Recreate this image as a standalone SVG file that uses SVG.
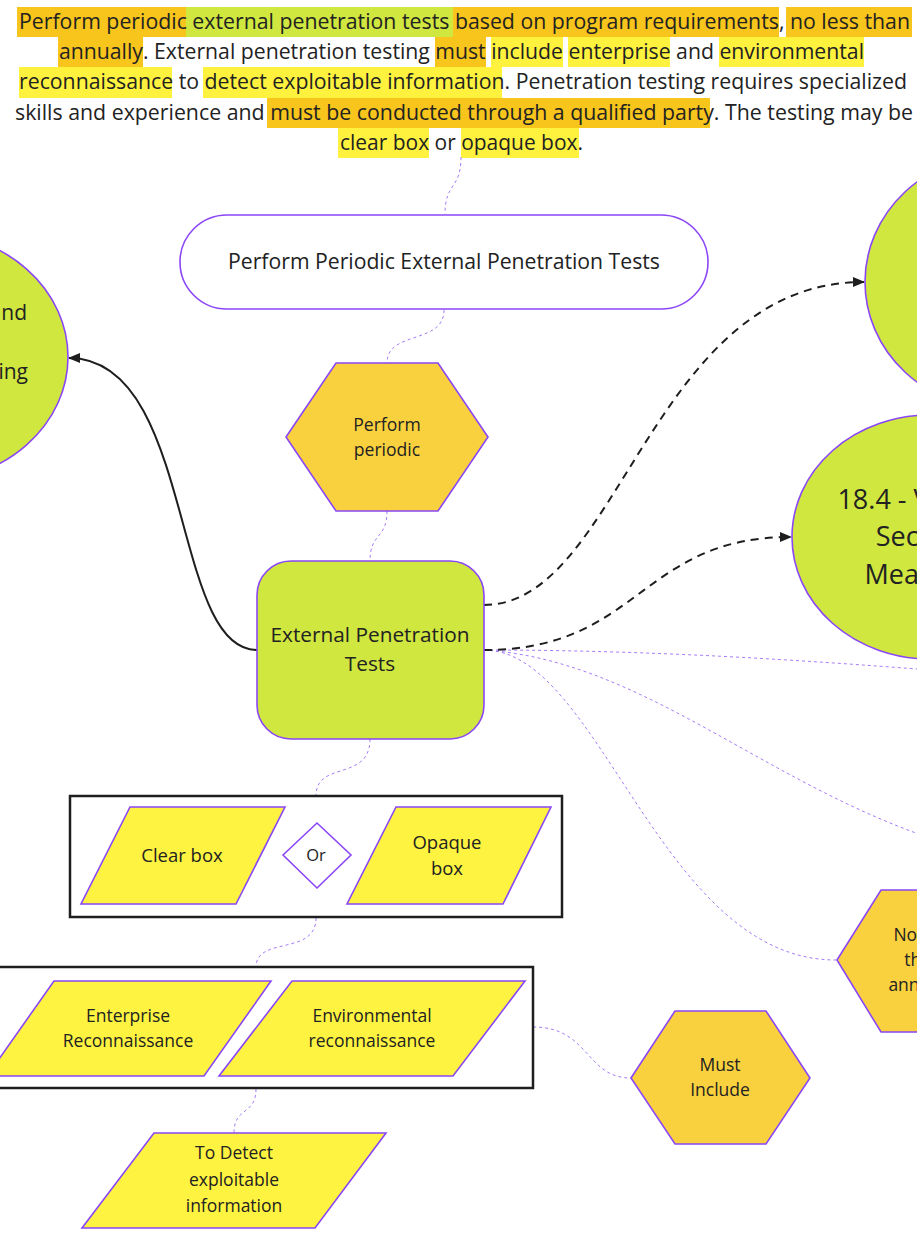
<svg xmlns="http://www.w3.org/2000/svg" width="917" height="1240" viewBox="0 0 917 1240">
  <defs>
    <marker id="arrow" viewBox="0 0 12 10" refX="11" refY="5" markerWidth="12" markerHeight="10" markerUnits="userSpaceOnUse" orient="auto">
      <path d="M0 0 L12 5 L0 10 Z" fill="#1e1e1e"/>
    </marker>
    <style>
      .t { font-family: "Open Sans", "Noto Sans", sans-serif; fill: #222; text-anchor: middle; }
      .hdr { font-size: 21px; text-anchor: start; }
      .end { text-anchor: end; }
      .lime { fill: #cfe73f; stroke: #8b46f6; stroke-width: 1.6; }
      .gold { fill: #f9d13e; stroke: #8b46f6; stroke-width: 1.6; }
      .yel { fill: #fef340; stroke: #8b46f6; stroke-width: 1.6; }
      .white { fill: #ffffff; stroke: #8b46f6; stroke-width: 1.6; }
      .frame { fill: #ffffff; stroke: #1e1e1e; stroke-width: 2.5; }
      .dot { fill: none; stroke: #a67cf7; stroke-width: 1; stroke-dasharray: 3 3; }
      .solid { fill: none; stroke: #1e1e1e; stroke-width: 2; }
      .dash { fill: none; stroke: #1e1e1e; stroke-width: 2; stroke-dasharray: 8 6; }
      .hl-o { fill: #f8c51c; }
      .hl-l { fill: #cfe73f; }
      .hl-y { fill: #fef23f; }
    </style>
  </defs>

  <rect width="917" height="1240" fill="#ffffff"/>

  <!-- Source statement with highlighted phrases -->
  <g id="statement">
    <rect class="hl-o" x="17" y="7" width="169" height="30"/>
    <rect class="hl-l" x="186" y="7" width="267" height="30"/>
    <rect class="hl-o" x="453" y="7" width="326" height="30"/>
    <rect class="hl-o" x="786" y="7" width="126" height="30"/>
    <rect class="hl-o" x="58" y="37" width="85" height="30"/>
    <rect class="hl-o" x="435" y="37" width="51" height="30"/>
    <rect class="hl-y" x="491" y="37" width="72" height="30"/>
    <rect class="hl-y" x="568" y="37" width="102" height="30"/>
    <rect class="hl-y" x="719" y="37" width="145" height="30"/>
    <rect class="hl-y" x="19" y="67" width="153" height="31"/>
    <rect class="hl-y" x="203" y="67" width="299" height="31"/>
    <rect class="hl-o" x="267" y="98" width="443" height="30"/>
    <rect class="hl-y" x="338" y="128" width="91" height="30"/>
    <rect class="hl-y" x="461" y="128" width="118" height="30"/>
    <text class="t hdr" x="19" y="29" textLength="891" lengthAdjust="spacingAndGlyphs">Perform periodic external penetration tests based on program requirements, no less than</text>
    <text class="t hdr" x="59" y="59" textLength="805" lengthAdjust="spacingAndGlyphs">annually. External penetration testing must include enterprise and environmental</text>
    <text class="t hdr" x="19" y="89" textLength="888" lengthAdjust="spacingAndGlyphs">reconnaissance to detect exploitable information. Penetration testing requires specialized</text>
    <text class="t hdr" x="15" y="120" textLength="898" lengthAdjust="spacingAndGlyphs">skills and experience and must be conducted through a qualified party. The testing may be</text>
    <text class="t hdr" x="340" y="150" textLength="243" lengthAdjust="spacingAndGlyphs">clear box or opaque box.</text>
  </g>

  <!-- Connectors -->
  <g id="connectors">
    <path class="dot" d="M461 157 C461 190 445 182 445 214"/>
    <path class="dot" d="M444 310 C444 345 387 330 387 363"/>
    <path class="dot" d="M387 511 C387 540 370 532 370 561"/>
    <path class="dot" d="M370 739 C370 782 316 760 316 796"/>
    <path class="dot" d="M316 918 C316 956 256 936 256 967"/>
    <path class="dot" d="M256 1089 C256 1116 234 1106 234 1133"/>
    <path class="dot" d="M533 1027 C590 1027 585 1078 631 1078"/>
    <path class="dot" d="M484 650 C650 650 800 660 930 670"/>
    <path class="dot" d="M484 650 C640 660 760 780 930 838"/>
    <path class="dot" d="M484 650 C600 650 660 960 836 960"/>
    <path class="solid" d="M257 650 C170 650 195 358 69 358" marker-end="url(#arrow)"/>
    <path class="dash" d="M484 605 C620 605 650 282 864 282" marker-end="url(#arrow)"/>
    <path class="dash" d="M484 650 C640 650 640 537 791 537" marker-end="url(#arrow)"/>
  </g>

  <g id="node-program">
    <ellipse class="lime" cx="-75" cy="357" rx="143" ry="125"/>
    <text class="t end" font-size="21" x="27" y="320">Establish and</text>
    <text class="t end" font-size="21" x="28" y="379">Penetration Testing</text>
  </g>

  <g id="node-top-right">
    <ellipse class="lime" cx="1003" cy="282" rx="138" ry="128"/>
  </g>

  <g id="node-validate">
    <ellipse class="lime" cx="930" cy="537" rx="138" ry="122"/>
    <text class="t" font-size="27" x="926" y="509">18.4 - Validate</text>
    <text class="t" font-size="27" x="926" y="546">Security</text>
    <text class="t" font-size="27" x="926" y="584">Measures</text>
  </g>

  <g id="node-title">
    <rect class="white" x="180" y="215" width="528" height="94" rx="47"/>
    <text class="t" font-size="21.2" x="444" y="269">Perform Periodic External Penetration Tests</text>
  </g>

  <g id="node-periodic">
    <polygon class="gold" points="286,437 336,363 438,363 488,437 438,511 336,511"/>
    <text class="t" font-size="17.6" x="387" y="431">Perform</text>
    <text class="t" font-size="17.6" x="387" y="456">periodic</text>
  </g>

  <g id="node-ext">
    <rect class="lime" x="257" y="561" width="227" height="178" rx="34"/>
    <text class="t" font-size="20.8" x="370" y="642">External Penetration</text>
    <text class="t" font-size="20.8" x="370" y="671">Tests</text>
  </g>

  <g id="node-box-type">
    <rect class="frame" x="70" y="796" width="492" height="121"/>
    <polygon class="yel" points="130,807 285,807 236,904 81,904"/>
    <text class="t" font-size="18.5" x="182" y="862">Clear box</text>
    <polygon class="white" points="283,855 317,823 351,855 317,888"/>
    <text class="t" font-size="16.5" x="316" y="861">Or</text>
    <polygon class="yel" points="396,807 551,807 503,904 347,904"/>
    <text class="t" font-size="18.5" x="447" y="849">Opaque</text>
    <text class="t" font-size="18.5" x="447" y="875">box</text>
  </g>

  <g id="node-recon">
    <rect class="frame" x="-10" y="967" width="543" height="121"/>
    <polygon class="yel" points="54,981 271,981 204,1076 -13,1076"/>
    <text class="t" font-size="17.5" x="128" y="1022">Enterprise</text>
    <text class="t" font-size="17.5" x="128" y="1047">Reconnaissance</text>
    <polygon class="yel" points="292,981 525,981 453,1076 219,1076"/>
    <text class="t" font-size="17.5" x="372" y="1022">Environmental</text>
    <text class="t" font-size="17.5" x="372" y="1047">reconnaissance</text>
  </g>

  <g id="node-detect">
    <polygon class="yel" points="154,1133 386,1133 315,1228 82,1228"/>
    <text class="t" font-size="17.5" x="234" y="1159">To Detect</text>
    <text class="t" font-size="17.5" x="234" y="1186">exploitable</text>
    <text class="t" font-size="17.5" x="234" y="1212">information</text>
  </g>

  <g id="node-annually">
    <polygon class="gold" points="837,960 881,890 985,890 1029,960 985,1032 881,1032"/>
    <text class="t" font-size="17.5" x="923" y="941">No less</text>
    <text class="t" font-size="17.5" x="923" y="966">than</text>
    <text class="t" font-size="17.5" x="923" y="991">annually</text>
  </g>

  <g id="node-must">
    <polygon class="gold" points="631,1078 675,1011 766,1011 810,1078 766,1144 675,1144"/>
    <text class="t" font-size="17.5" x="720" y="1071">Must</text>
    <text class="t" font-size="17.5" x="720" y="1096">Include</text>
  </g>
</svg>
